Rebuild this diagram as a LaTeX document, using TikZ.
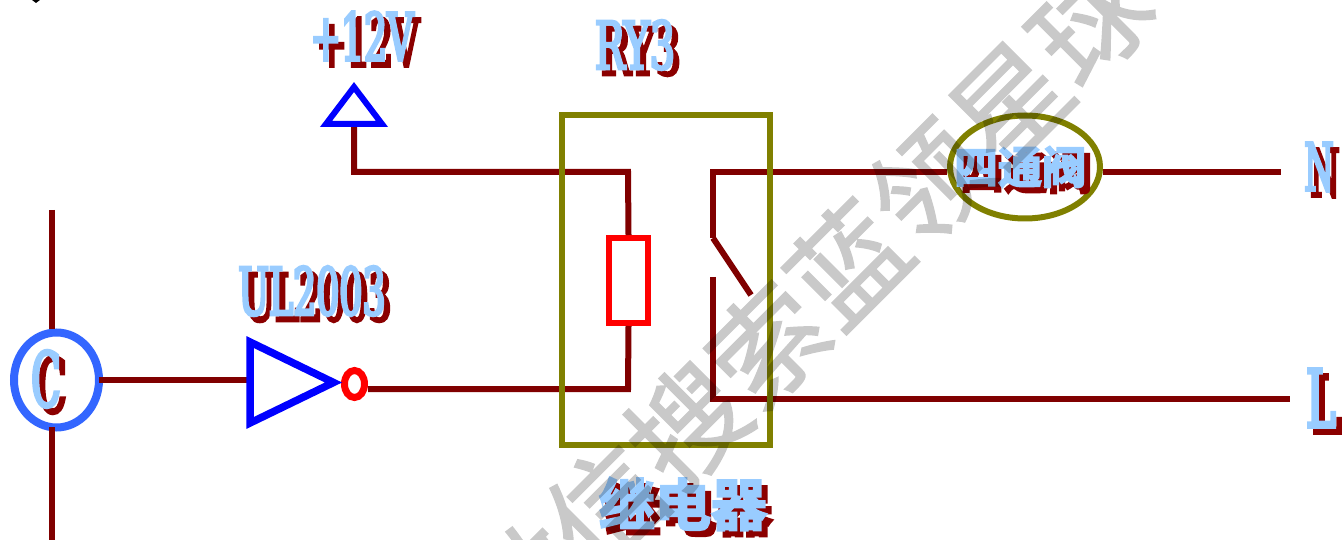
\documentclass[tikz,border=0pt]{standalone}
\usepackage{fontspec}
\usetikzlibrary{shapes.geometric}
\newfontfamily\latinlab[FakeBold=4,FakeStretch=0.55]{DejaVu Serif}
\newfontfamily\latinwide[FakeBold=4,FakeStretch=0.5]{DejaVu Serif}
\newfontfamily\latinry[FakeBold=4,FakeStretch=0.6]{DejaVu Serif}
\newfontfamily\cjklab[FakeBold=4]{Noto Sans CJK SC Bold}
\newfontfamily\cjkmark[FakeBold=1.3]{Noto Sans CJK SC}
\definecolor{wire}{HTML}{800000}
\definecolor{shade}{HTML}{8B0000}
\definecolor{sky}{HTML}{99CCFF}
\definecolor{olive2}{HTML}{808000}
\definecolor{ring}{HTML}{3366FF}
\newcommand{\shadowlabel}[5]{%
  \node[text=shade,font=#4,inner sep=0pt] at (#1+6,#2+6) {#3};
  \node[text=sky,font=#4,inner sep=0pt] (#5) at (#1,#2) {#3};
}
\tikzset{
  wireline/.style={draw=wire,line width=6pt},
  relaybox/.style={draw=olive2,line width=6pt,fill=none,rectangle,inner sep=0pt,minimum width=208pt,minimum height=330pt},
  coilbox/.style={draw=red,line width=6pt,rectangle,inner sep=0pt,minimum width=39pt,minimum height=85pt},
  valve/.style={draw=olive2,line width=6pt,ellipse,inner sep=0pt,minimum width=150pt,minimum height=103pt},
  ringc/.style={draw=ring,line width=8pt,ellipse,inner sep=0pt,minimum width=85pt,minimum height=95pt},
  bubble/.style={draw=red,line width=7pt,ellipse,inner sep=0pt,minimum width=20pt,minimum height=27pt},
  buftri/.style={draw=blue,line width=7.5pt,miter limit=10,line join=miter},
  vcctri/.style={draw=blue,line width=6pt,miter limit=10,line join=miter},
  markfont/.style={font=\cjkmark\fontsize{114}{114}\selectfont,text=black,inner sep=0pt}
}
\begin{document}
\begin{tikzpicture}[x=1pt,y=-1pt]
\useasboundingbox (0,0) rectangle (1342,540);
\fill[black] (32,0) -- (40,0) -- (36,3) -- cycle;
% components
\node[ringc] (cnode) at (56.5,380) {};
\coordinate (bufin) at (250,380);
\coordinate (vccfoot) at (354,124);
\node[bubble] (bub) at (354.5,384) {};
\node[coilbox] (coil) at (628.5,280.5) {};
\node[valve] (val) at (1025,167) {};
% free ends
\coordinate (topbus) at (52,210);
\coordinate (topin) at (52,329);
\coordinate (botin) at (52,427);
\coordinate (botbus) at (52,540);
\coordinate (nend) at (1281,172);
\coordinate (lend) at (1290,399);
\coordinate (hinge) at (713,238);
\coordinate (blade) at (751,295);
\coordinate (fixed) at (713,277);
% wires
\draw[wireline] (topbus) -- (topin);
\draw[wireline] (botin) -- (botbus);
\draw[wireline] ([xshift=-4pt]cnode.east) -- (bufin);
\draw[wireline] (bub.east |- 0,389) -- (628,389) -- (coil.south);
\draw[wireline] (vccfoot) -- (354,172) -- (628,172) -- (coil.north);
\draw[wireline] (hinge) -- (713,172) -- (val.west |- 0,172);
\draw[wireline] (hinge) -- (blade);
\draw[wireline] (fixed) -- (713,399) -- (lend);
\draw[wireline] (val.east |- 0,172) -- (nend);
% triangles
\draw[buftri] (bufin |- 0,342) -- (bufin |- 0,423) -- (333.5,382.5) -- cycle;
\draw[vcctri] (326,124) -- (382,124) -- (354,87) -- cycle;
% relay box over wires
\node[relaybox] (relay) at (666,280) {};
% labels
\shadowlabel{362}{36}{+12V}{\latinlab\fontsize{66}{66}\selectfont}{l12v}
\shadowlabel{635}{45}{RY3}{\latinry\fontsize{66}{66}\selectfont}{lry}
\shadowlabel{312}{291}{UL2003}{\latinlab\fontsize{66}{66}\selectfont}{lul}
\shadowlabel{46}{379}{C}{\latinwide\fontsize{76}{76}\selectfont}{lc}
\shadowlabel{1319}{167}{N}{\latinwide\fontsize{66}{66}\selectfont}{ln}
\shadowlabel{1321}{398}{L}{\latinlab\fontsize{80}{80}\selectfont}{ll}
\shadowlabel{1020}{167}{四通阀}{\cjklab\fontsize{44}{44}\selectfont}{lval}
\shadowlabel{683}{504}{继电器}{\cjklab\fontsize{56}{56}\selectfont}{lrel}
% watermark
\begin{scope}[transparency group,opacity=0.21]
\node[markfont,rotate=45] (wm) at (808,304) {微信搜索蓝领星球};
\end{scope}
\end{tikzpicture}
\end{document}
